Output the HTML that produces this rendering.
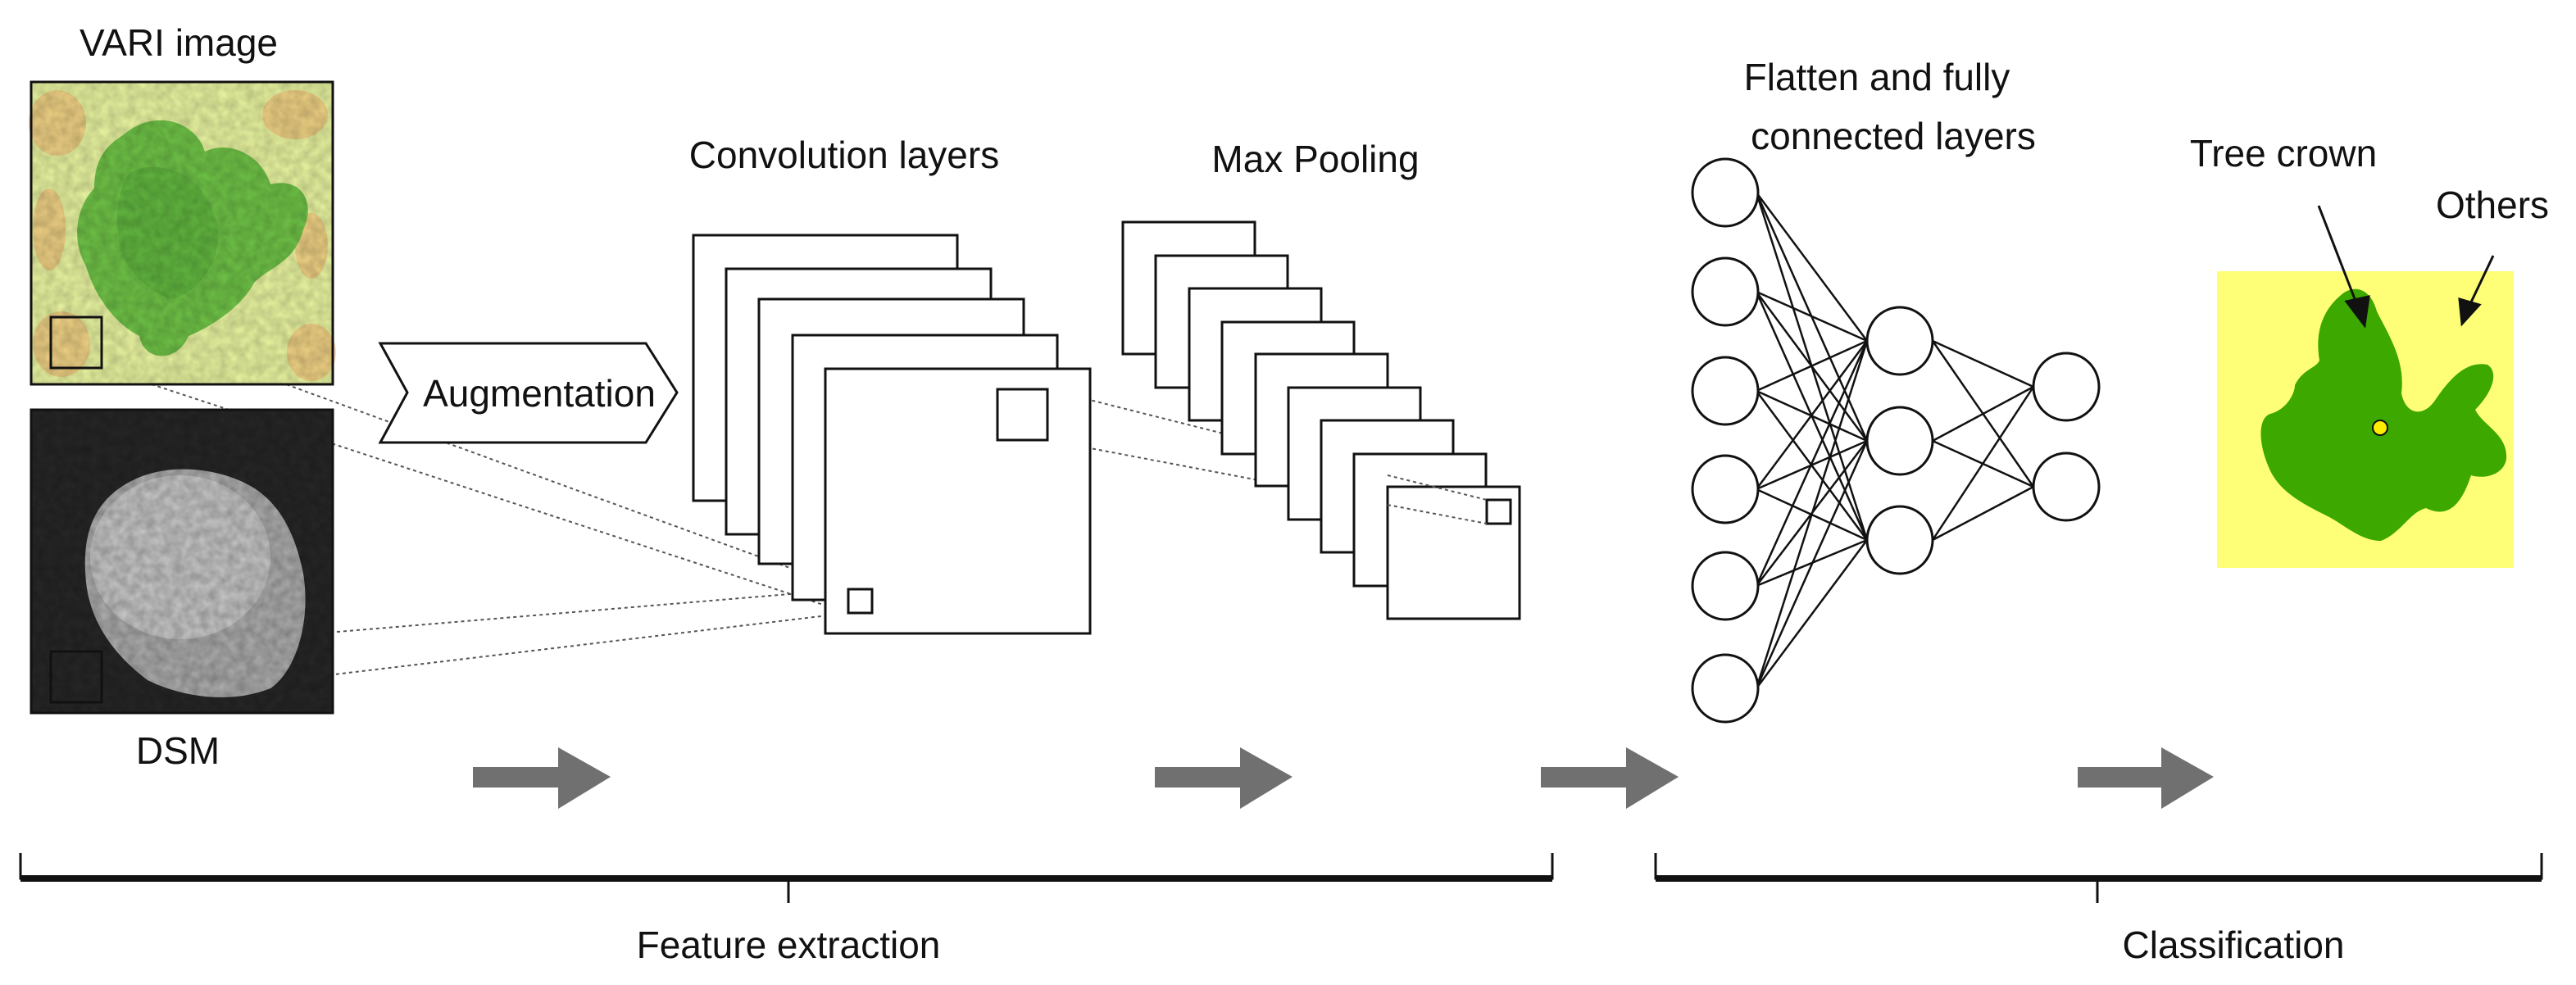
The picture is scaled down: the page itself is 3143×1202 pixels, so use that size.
<!DOCTYPE html>
<html><head><meta charset="utf-8"><style>
html,body{margin:0;padding:0;background:#fff;}
svg{display:block;}
text{font-family:"Liberation Sans",Arial,sans-serif;fill:#111;}
</style></head><body>
<svg width="3143" height="1202" viewBox="0 0 3143 1202" xmlns="http://www.w3.org/2000/svg">
<defs>
<radialGradient id="dsmg" cx="0.45" cy="0.45" r="0.5">
<stop offset="0" stop-color="#cfcfcf"/><stop offset="0.6" stop-color="#a0a0a0"/><stop offset="0.9" stop-color="#4a4a4a"/><stop offset="1" stop-color="#2a2a2a" stop-opacity="0"/></radialGradient>
<filter id="noise" x="0" y="0" width="1" height="1"><feTurbulence type="fractalNoise" baseFrequency="0.09" numOctaves="2" seed="3"/><feColorMatrix values="0 0 0 0 0  0 0 0 0 0  0 0 0 0 0  0 0 0 0.7 -0.1"/><feComposite in2="SourceGraphic" operator="in"/></filter>
</defs>

<g stroke="#555" stroke-width="2" stroke-dasharray="4,4" fill="none">
<line x1="124" y1="387" x2="1035" y2="719"/>
<line x1="124" y1="449" x2="1035" y2="748"/>
<line x1="124" y1="795" x2="1035" y2="719"/>
<line x1="124" y1="857" x2="1035" y2="748"/>
<line x1="1278" y1="475" x2="1814" y2="610"/>
<line x1="1278" y1="537" x2="1814" y2="639"/>
</g>

<text x="218" y="68" font-size="46" text-anchor="middle">VARI image</text>
<rect x="38" y="100" width="368" height="369" fill="#e3ee9c"/>
<g opacity="0.45" fill="#eea060">
<ellipse cx="70" cy="150" rx="35" ry="40"/><ellipse cx="360" cy="140" rx="40" ry="30"/>
<ellipse cx="75" cy="420" rx="35" ry="40"/><ellipse cx="380" cy="430" rx="30" ry="35"/>
<ellipse cx="60" cy="280" rx="20" ry="50"/><ellipse cx="380" cy="300" rx="20" ry="40"/>
</g>
<path d="M150 165 C190 130 240 150 250 185 C280 170 320 190 330 225 C370 215 385 250 370 280 C360 320 330 325 310 345 C295 375 255 400 230 410 C215 445 175 440 170 410 C140 395 115 360 105 325 C85 290 95 250 115 230 C115 200 125 180 150 165 Z" fill="#6cbd45"/>
<path d="M160 210 C200 190 250 220 260 260 C280 300 250 355 210 365 C175 355 145 320 145 290 C140 260 145 225 160 210 Z" fill="#5aad3c" opacity="0.7"/>
<rect x="38" y="100" width="368" height="369" fill="#fff" filter="url(#noise)" opacity="0.35"/>
<rect x="38" y="100" width="368" height="369" fill="none" stroke="#111" stroke-width="3"/>
<rect x="62" y="387" width="62" height="62" fill="none" stroke="#111" stroke-width="3"/>

<rect x="38" y="500" width="368" height="370" fill="#262626"/>
<path d="M140 600 C190 560 260 570 300 590 C340 610 360 650 370 700 C380 760 360 820 330 840 C280 860 220 850 180 830 C140 800 110 760 105 710 C100 660 110 625 140 600 Z" fill="#a8a8a8"/>
<ellipse cx="220" cy="680" rx="110" ry="100" fill="#c8c8c8" opacity="0.8"/>
<rect x="38" y="500" width="368" height="370" fill="#000" filter="url(#noise)" opacity="0.45"/>
<rect x="38" y="500" width="368" height="370" fill="none" stroke="#111" stroke-width="3"/>
<rect x="62" y="795" width="62" height="62" fill="none" stroke="#111" stroke-width="3"/>
<text x="217" y="932" font-size="46" text-anchor="middle">DSM</text>

<polygon points="464,419 788,419 826,479 788,540 464,540 497,479" fill="#fff" stroke="#111" stroke-width="3"/>
<text x="658" y="496" font-size="46" text-anchor="middle">Augmentation</text>

<text x="1030" y="205" font-size="46" text-anchor="middle">Convolution layers</text>
<g fill="#fff" stroke="#111" stroke-width="3">
<rect x="846" y="287" width="322" height="324"/>
<rect x="886" y="328" width="323" height="324"/>
<rect x="926" y="365" width="323" height="323"/>
<rect x="967" y="409" width="323" height="323"/>
<rect x="1007" y="450" width="323" height="323"/>
<rect x="1217" y="475" width="61" height="62"/>
<rect x="1035" y="719" width="29" height="29"/>
</g>

<text x="1605" y="210" font-size="46" text-anchor="middle">Max Pooling</text>
<g fill="#fff" stroke="#111" stroke-width="3">
<rect x="1370" y="271" width="161" height="161"/>
<rect x="1410" y="312" width="161" height="161"/>
<rect x="1451" y="352" width="161" height="161"/>
<rect x="1491" y="393" width="161" height="161"/>
<rect x="1532" y="432" width="161" height="161"/>
<rect x="1572" y="473" width="161" height="161"/>
<rect x="1612" y="513" width="161" height="161"/>
<rect x="1652" y="554" width="161" height="161"/>
<rect x="1693" y="594" width="161" height="161"/>
<rect x="1814" y="610" width="29" height="29"/>
</g>
<g stroke="#555" stroke-width="2" stroke-dasharray="4,4" fill="none">
<line x1="1693" y1="580" x2="1814" y2="610"/>
<line x1="1693" y1="616" x2="1814" y2="639"/>
</g>

<text x="2290" y="110" font-size="46" text-anchor="middle">Flatten and fully</text>
<text x="2310" y="182" font-size="46" text-anchor="middle">connected layers</text>
<g stroke="#111" stroke-width="2.5">
<line x1="2143" y1="235" x2="2278" y2="416"/><line x1="2143" y1="235" x2="2278" y2="538"/><line x1="2143" y1="235" x2="2278" y2="659"/>
<line x1="2143" y1="356" x2="2278" y2="416"/><line x1="2143" y1="356" x2="2278" y2="538"/><line x1="2143" y1="356" x2="2278" y2="659"/>
<line x1="2143" y1="477" x2="2278" y2="416"/><line x1="2143" y1="477" x2="2278" y2="538"/><line x1="2143" y1="477" x2="2278" y2="659"/>
<line x1="2143" y1="597" x2="2278" y2="416"/><line x1="2143" y1="597" x2="2278" y2="538"/><line x1="2143" y1="597" x2="2278" y2="659"/>
<line x1="2143" y1="715" x2="2278" y2="416"/><line x1="2143" y1="715" x2="2278" y2="538"/><line x1="2143" y1="715" x2="2278" y2="659"/>
<line x1="2143" y1="840" x2="2278" y2="416"/><line x1="2143" y1="840" x2="2278" y2="538"/><line x1="2143" y1="840" x2="2278" y2="659"/>
<line x1="2358" y1="416" x2="2481" y2="472"/><line x1="2358" y1="416" x2="2481" y2="594"/>
<line x1="2358" y1="538" x2="2481" y2="472"/><line x1="2358" y1="538" x2="2481" y2="594"/>
<line x1="2358" y1="659" x2="2481" y2="472"/><line x1="2358" y1="659" x2="2481" y2="594"/>
</g>
<g fill="#fff" stroke="#111" stroke-width="3">
<ellipse cx="2105" cy="235" rx="40" ry="41"/><ellipse cx="2105" cy="356" rx="40" ry="41"/>
<ellipse cx="2105" cy="477" rx="40" ry="41"/><ellipse cx="2105" cy="597" rx="40" ry="41"/>
<ellipse cx="2105" cy="715" rx="40" ry="41"/><ellipse cx="2105" cy="840" rx="40" ry="41"/>
<ellipse cx="2318" cy="416" rx="40" ry="41"/><ellipse cx="2318" cy="538" rx="40" ry="41"/><ellipse cx="2318" cy="659" rx="40" ry="41"/>
<ellipse cx="2521" cy="472" rx="40" ry="41"/><ellipse cx="2521" cy="594" rx="40" ry="41"/>
</g>

<text x="2786" y="203" font-size="46" text-anchor="middle">Tree crown</text>
<text x="3041" y="266" font-size="46" text-anchor="middle">Others</text>
<rect x="2705" y="331" width="362" height="362" fill="#ffff77"/>
<path d="M2860 357 C2880 345 2895 360 2900 380 C2915 410 2935 440 2930 480 C2935 505 2955 510 2970 490 C2990 460 3010 440 3035 445 C3050 455 3040 480 3020 500 C3030 520 3060 530 3058 560 C3055 580 3030 585 3015 580 C3005 610 2990 635 2960 620 C2940 625 2930 650 2905 660 C2880 660 2860 640 2840 630 C2810 615 2780 600 2768 570 C2755 540 2755 510 2770 505 C2790 500 2800 480 2800 470 C2810 450 2825 450 2830 440 C2825 410 2830 380 2860 357 Z" fill="#3ca800"/>
<circle cx="2904" cy="522" r="9" fill="#ffee00" stroke="#111" stroke-width="2"/>
<g stroke="#111" stroke-width="3" fill="#111">
<line x1="2829" y1="251" x2="2877" y2="375"/>
<polygon points="2885,397 2863,368 2890,362"/>
<line x1="3042" y1="312" x2="3012" y2="375"/>
<polygon points="3004,395 3001,365 3025,372"/>
</g>

<g fill="#707070">
<polygon points="577,936 681,936 681,912 745,948 681,987 681,961 577,961"/>
<polygon points="1409,936 1513,936 1513,912 1577,948 1513,987 1513,961 1409,961"/>
<polygon points="1880,936 1984,936 1984,912 2048,948 1984,987 1984,961 1880,961"/>
<polygon points="2535,936 2637,936 2637,912 2701,948 2637,987 2637,961 2535,961"/>
</g>

<g stroke="#111" fill="none">
<path d="M25 1041 V1072 H1894 V1041" stroke-width="3"/>
<line x1="25" y1="1072" x2="1894" y2="1072" stroke-width="8"/>
<line x1="962" y1="1072" x2="962" y2="1102" stroke-width="3"/>
<path d="M2020 1041 V1072 H3101 V1041" stroke-width="3"/>
<line x1="2020" y1="1072" x2="3101" y2="1072" stroke-width="8"/>
<line x1="2559" y1="1072" x2="2559" y2="1102" stroke-width="3"/>
</g>
<text x="962" y="1169" font-size="46" text-anchor="middle">Feature extraction</text>
<text x="2725" y="1169" font-size="46" text-anchor="middle">Classification</text>
</svg>
</body></html>
